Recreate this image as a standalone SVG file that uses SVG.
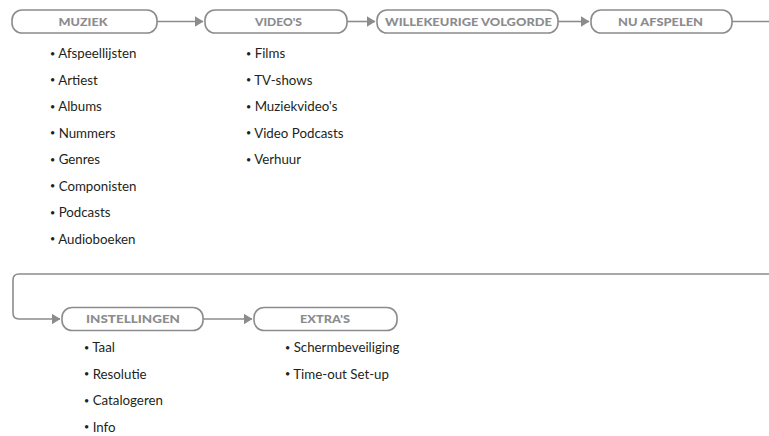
<svg xmlns="http://www.w3.org/2000/svg" width="769" height="436" viewBox="0 0 769 436">
<style>
.pill{fill:#fff;stroke:#8c8c8e;stroke-width:1.6}
.lbl{font-family:Lato,"Liberation Sans",sans-serif;font-weight:900;font-size:11.5px;fill:#8c8c8e;text-anchor:middle}
.item{font-family:Lato,"Liberation Sans",sans-serif;font-size:13.3px;fill:#231f20}
.b{font-size:9px}
.conn{fill:none;stroke:#8c8c8e;stroke-width:1.6}
</style>
<defs>
<marker id="arr" markerWidth="9" markerHeight="11" refX="8.5" refY="5.5" orient="auto" markerUnits="userSpaceOnUse">
<path d="M0,0 L9,5.5 L0,11 Z" fill="#8c8c8e"/>
</marker>
</defs>
<rect width="769" height="436" fill="#fff"/>
<g id="connectors">
<path class="conn" d="M157,21.5 H203" marker-end="url(#arr)"/>
<path class="conn" d="M347,21.5 H375" marker-end="url(#arr)"/>
<path class="conn" d="M558,21.5 H589" marker-end="url(#arr)"/>
<path class="conn" d="M732,21.5 H769"/>
<path class="conn" d="M769,274 H19 Q13,274 13,280 V313 Q13,319 19,319 H60" marker-end="url(#arr)"/>
<path class="conn" d="M203,319 H252" marker-end="url(#arr)"/>
</g>
<g id="muziek">
<rect class="pill" x="12" y="10" width="145" height="23" rx="10"/>
<text class="lbl" x="83" y="25.5" textLength="49" lengthAdjust="spacingAndGlyphs">MUZIEK</text>
<text class="item" x="50" y="58"><tspan class="b" dy="-1.5">•</tspan><tspan dy="1.5"> Afspeellijsten</tspan></text>
<text class="item" x="50" y="84.5"><tspan class="b" dy="-1.5">•</tspan><tspan dy="1.5"> Artiest</tspan></text>
<text class="item" x="50" y="111"><tspan class="b" dy="-1.5">•</tspan><tspan dy="1.5"> Albums</tspan></text>
<text class="item" x="50" y="137.5"><tspan class="b" dy="-1.5">•</tspan><tspan dy="1.5"> Nummers</tspan></text>
<text class="item" x="50" y="164"><tspan class="b" dy="-1.5">•</tspan><tspan dy="1.5"> Genres</tspan></text>
<text class="item" x="50" y="190.5"><tspan class="b" dy="-1.5">•</tspan><tspan dy="1.5"> Componisten</tspan></text>
<text class="item" x="50" y="217"><tspan class="b" dy="-1.5">•</tspan><tspan dy="1.5"> Podcasts</tspan></text>
<text class="item" x="50" y="243.5"><tspan class="b" dy="-1.5">•</tspan><tspan dy="1.5"> Audioboeken</tspan></text>
</g>
<g id="videos">
<rect class="pill" x="205" y="10" width="142" height="23" rx="10"/>
<text class="lbl" x="278.5" y="25.5" textLength="47" lengthAdjust="spacingAndGlyphs">VIDEO'S</text>
<text class="item" x="246" y="58"><tspan class="b" dy="-1.5">•</tspan><tspan dy="1.5"> Films</tspan></text>
<text class="item" x="246" y="84.5"><tspan class="b" dy="-1.5">•</tspan><tspan dy="1.5"> TV-shows</tspan></text>
<text class="item" x="246" y="111"><tspan class="b" dy="-1.5">•</tspan><tspan dy="1.5"> Muziekvideo's</tspan></text>
<text class="item" x="246" y="137.5"><tspan class="b" dy="-1.5">•</tspan><tspan dy="1.5"> Video Podcasts</tspan></text>
<text class="item" x="246" y="164"><tspan class="b" dy="-1.5">•</tspan><tspan dy="1.5"> Verhuur</tspan></text>
</g>
<g id="willekeurig">
<rect class="pill" x="377" y="10" width="181" height="23" rx="10"/>
<text class="lbl" x="468.5" y="25.5" textLength="167" lengthAdjust="spacingAndGlyphs">WILLEKEURIGE VOLGORDE</text>
</g>
<g id="nu-afspelen">
<rect class="pill" x="591" y="10" width="141" height="23" rx="10"/>
<text class="lbl" x="660.5" y="25.5" textLength="85" lengthAdjust="spacingAndGlyphs">NU AFSPELEN</text>
</g>
<g id="instellingen">
<rect class="pill" x="62" y="307.5" width="141" height="23" rx="10"/>
<text class="lbl" x="133" y="323" textLength="94" lengthAdjust="spacingAndGlyphs">INSTELLINGEN</text>
<text class="item" x="84" y="352"><tspan class="b" dy="-1.5">•</tspan><tspan dy="1.5"> Taal</tspan></text>
<text class="item" x="84" y="378.5"><tspan class="b" dy="-1.5">•</tspan><tspan dy="1.5"> Resolutie</tspan></text>
<text class="item" x="84" y="405"><tspan class="b" dy="-1.5">•</tspan><tspan dy="1.5"> Catalogeren</tspan></text>
<text class="item" x="84" y="431.5"><tspan class="b" dy="-1.5">•</tspan><tspan dy="1.5"> Info</tspan></text>
</g>
<g id="extras">
<rect class="pill" x="254" y="307.5" width="143" height="23" rx="10"/>
<text class="lbl" x="325" y="323" textLength="50" lengthAdjust="spacingAndGlyphs">EXTRA'S</text>
<text class="item" x="285" y="352"><tspan class="b" dy="-1.5">•</tspan><tspan dy="1.5"> Schermbeveiliging</tspan></text>
<text class="item" x="285" y="378.5"><tspan class="b" dy="-1.5">•</tspan><tspan dy="1.5"> Time-out Set-up</tspan></text>
</g>
</svg>
